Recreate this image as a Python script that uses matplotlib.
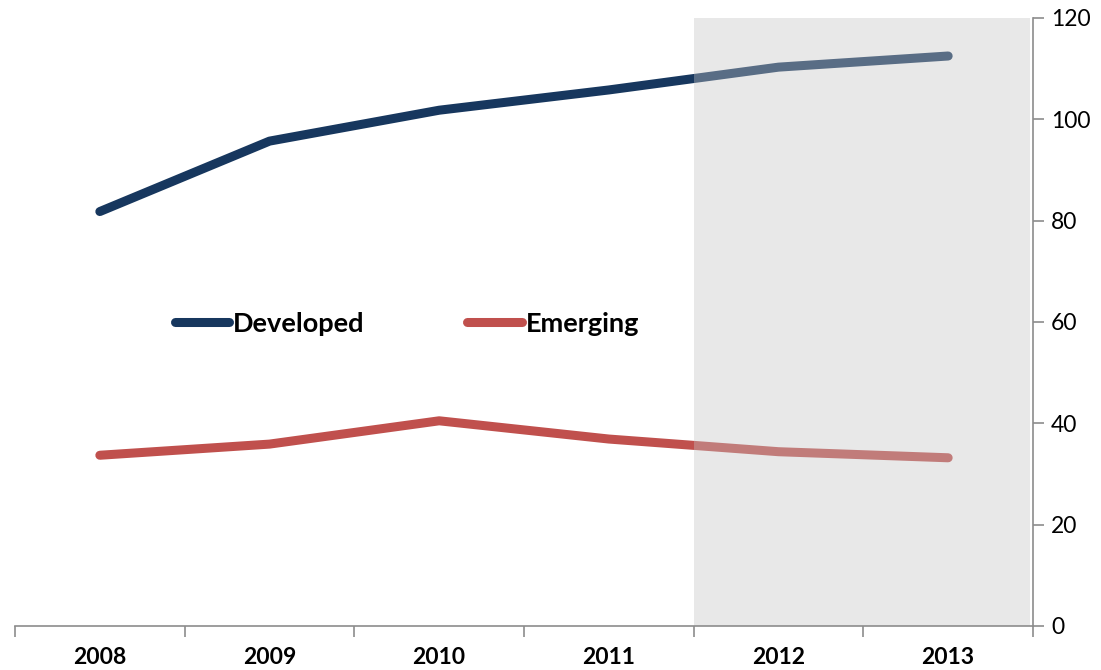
import matplotlib.pyplot as plt
from matplotlib.lines import Line2D
import numpy as np

years = ["2008", "2009", "2010", "2011", "2012", "2013"]
developed = [81.8, 95.7, 101.8, 105.8, 110.3, 112.5]
emerging = [33.7, 35.9, 40.5, 36.9, 34.4, 33.2]
y_ticks = [0, 20, 40, 60, 80, 100, 120]
forecast_start = "2012"

navy = "#17375e"
red = "#c0504d"
axis_grey = "#8c8c8c"

fig = plt.figure(figsize=(11.01, 6.70), dpi=100)
ax = fig.add_axes([15 / 1101, 44 / 670, 1018 / 1101, 608 / 670])

x = np.arange(len(years))
ax.plot(x, developed, color=navy, lw=6.5, solid_capstyle="round",
        solid_joinstyle="round", zorder=2)
ax.plot(x, emerging, color=red, lw=6.5, solid_capstyle="round",
        solid_joinstyle="round", zorder=2)

# forecast band laid over the lines
fs = years.index(forecast_start) - 0.5
ax.axvspan(fs, len(years) - 0.52, ymin=0, ymax=1, color="#c4c4c4",
           alpha=0.385, lw=0, zorder=3)

ax.set_xlim(-0.5, len(years) - 0.5)
ax.set_ylim(0, 120)

for s in ["left", "top"]:
    ax.spines[s].set_visible(False)
for s in ["right", "bottom"]:
    ax.spines[s].set_color(axis_grey)
    ax.spines[s].set_linewidth(1.2)
    ax.spines[s].set_zorder(4)

ax.yaxis.tick_right()
ax.set_yticks(y_ticks)
ax.set_yticklabels([str(v) for v in y_ticks], family="Lato", fontsize=16.5)
ax.tick_params(axis="y", direction="out", length=8, width=1.2,
               color=axis_grey, pad=5)

ax.set_xticks(x)
ax.set_xticklabels(years, family="Lato", fontweight="bold", fontsize=16.5)
ax.set_xticks(np.arange(-0.5, len(years)), minor=True)
ax.tick_params(axis="x", which="major", length=0, pad=15)
ax.tick_params(axis="x", which="minor", direction="out", length=8,
               width=1.2, color=axis_grey)

handles = [Line2D([], [], color=navy, lw=6.5, solid_capstyle="round"),
           Line2D([], [], color=red, lw=6.5, solid_capstyle="round")]
ax.legend(handles, ["Developed", "Emerging"], ncol=2, frameon=False,
          loc="center left", bbox_to_anchor=(0.157, 0.497),
          prop={"family": "Lato", "weight": "bold", "size": 19.5},
          handlelength=2.0, handletextpad=0.15, columnspacing=3.8,
          borderpad=0, borderaxespad=0)

fig.savefig("out.png", dpi=100)
